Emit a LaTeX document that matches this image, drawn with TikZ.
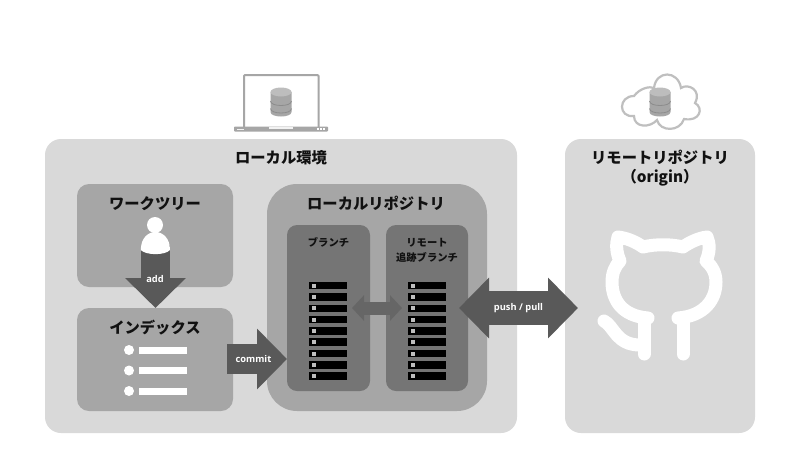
\documentclass[tikz,border=0pt]{standalone}
\usepackage{fontspec}
\setmainfont{Open Sans}
\newfontfamily\jp{Noto Sans CJK JP}
\usetikzlibrary{arrows.meta}
\definecolor{cOuter}{HTML}{D9D9D9}
\definecolor{cMid}{HTML}{A6A6A6}
\definecolor{cInner}{HTML}{757575}
\definecolor{cArrow}{HTML}{595959}
\definecolor{cArrowB}{HTML}{666666}
\definecolor{cIcon}{HTML}{A6A6A6}
\definecolor{cDbLine}{HTML}{8C8C8C}
\definecolor{cDbTop}{HTML}{BDBDBD}
\definecolor{cCloud}{HTML}{BFBFBF}
\definecolor{cInk}{HTML}{111111}
\tikzset{
  panel/.style={inner sep=0pt,outer sep=0pt,rounded corners=#1},
  bigtitle/.style={font=\jp\bfseries\fontsize{15.3}{18}\selectfont,text=cInk,align=center,inner sep=0pt},
  smalltitle/.style={font=\jp\bfseries\fontsize{10.3}{15}\selectfont,text=cInk,align=center,inner sep=0pt},
  arrowlabel/.style={font=\bfseries\fontsize{9.3}{11}\selectfont,text=white,inner sep=0pt},
  blockarrow/.style args={#1/#2/#3}{draw=cArrow,line width=#1,line cap=butt,
     arrows={-{Triangle[width=#2,length=#3]}}},
  blockboth/.style args={#1/#2/#3}{draw=cArrow,line width=#1,line cap=butt,
     arrows={{Triangle[width=#2,length=#3]}-{Triangle[width=#2,length=#3]}}},
  rowbar/.style={fill=black,draw=none,inner sep=0pt,minimum width=38pt,minimum height=7.5pt},
  listbar/.style={fill=white,draw=none,inner sep=0pt,minimum width=48pt,minimum height=7pt},
  dbicon/.pic={
    \fill[cIcon] (-10.5,-10) -- (-10.5,10) .. controls (-10.5,16) and (10.5,16) .. (10.5,10) -- (10.5,-10) -- cycle;
    \fill[cDbTop] (0,-10) ellipse [x radius=10.5,y radius=4.5];
    \draw[cDbLine,line width=.8pt] (-10.5,-1) .. controls (-10.5,5) and (10.5,5) .. (10.5,-1);
    \draw[cDbLine,line width=.8pt] (-10.5,6.5) .. controls (-10.5,12.5) and (10.5,12.5) .. (10.5,6.5);
  }
}
\begin{document}
\begin{tikzpicture}[x=1pt,y=-1pt]
\useasboundingbox[fill=white] (0,0) rectangle (800,472);

% panels
\node[panel=16pt,fill=cOuter,minimum width=472pt,minimum height=294pt] (local) at (281,286) {};
\node[panel=16pt,fill=cOuter,minimum width=190pt,minimum height=294pt] (remote) at (660,286) {};
\node[panel=12pt,fill=cMid,minimum width=156pt,minimum height=103pt] (work) at (155,235.5) {};
\node[panel=12pt,fill=cMid,minimum width=156pt,minimum height=103pt] (index) at (155,359.5) {};
\node[panel=30pt,fill=cMid,minimum width=220pt,minimum height=227pt] (repo) at (377,297.5) {};
\node[panel=10pt,fill=cInner,minimum width=83pt,minimum height=166pt] (branch) at (328.5,308) {};
\node[panel=10pt,fill=cInner,minimum width=82pt,minimum height=166pt] (track) at (427,308) {};

% titles
\node[bigtitle] (tLocal) at (281,157.5) {ローカル環境};
\node[bigtitle] (tRemote) at (660,157.5) {リモートリポジトリ};
\node[bigtitle] (tOrigin) at (660,177.5) {（origin）};
\node[bigtitle] (tWork) at (155,203.5) {ワークツリー};
\node[bigtitle] (tIndex) at (155,327.5) {インデックス};
\node[bigtitle] (tRepo) at (376,203.5) {ローカルリポジトリ};
\node[smalltitle] (tBranch) at (328.5,242.5) {ブランチ};
\node[smalltitle] (tTrack) at (427,250) {リモート\\追跡ブランチ};

% server rows
\foreach \i in {0,...,8}{
  \node[rowbar] (ba\i) at (328,285.7+\i*11.3) {};
  \fill[cOuter!70!gray] (ba\i.west)++(3.5,-2) rectangle ++(4,4);
  \node[rowbar] (tr\i) at (427,285.7+\i*11.3) {};
  \fill[cOuter!70!gray] (tr\i.west)++(3.5,-2) rectangle ++(4,4);
}

% add arrow
\coordinate (addS) at (155.5,245);
\coordinate (addE) at (155.5,308);
\draw[blockarrow=29pt/59pt/30pt] (addS) -- (addE);
\node[arrowlabel] (lAdd) at (155,279) {add};

% person
\node[circle,fill=white,inner sep=0pt,minimum size=16pt] (pHead) at (155,225) {};
\fill[white] (140.8,250) .. controls (140.8,226) and (170,226) .. (170,250) .. controls (165,255.5) and (146,255.5) .. (140.8,250) -- cycle;

% list
\foreach \i/\y in {1/350,2/370.5,3/391}{
  \node[circle,fill=white,inner sep=0pt,minimum size=10pt] (dot\i) at (129,\y) {};
  \node[listbar] (bar\i) at (163,\y) {};
}

% commit arrow
\coordinate (comS) at (227,359);
\draw[blockarrow=30pt/59pt/30pt] (comS) -- (branch.west |- comS);
\node[arrowlabel] (lCommit) at (253.5,359) {commit};

% branch <-> tracking
\coordinate (bbS) at (352,308);
\coordinate (bbE) at (402,308);
\draw[blockboth=13pt/25pt/12pt,draw=cArrowB] (bbS) -- (bbE);

% push / pull
\coordinate (ppS) at (459,308);
\coordinate (ppE) at (578,308);
\draw[blockboth=34pt/59pt/30pt] (ppS) -- (ppE);
\node[arrowlabel] (lPush) at (518.5,308) {push / pull};

% laptop
\fill[white] (244,75) rectangle (318,127);
\draw[cIcon,line width=2pt,rounded corners=1pt] (244,127.5) -- (244,75) -- (318.5,75) -- (318.5,127.5);
\fill[cIcon,rounded corners=.8pt] (234,126.5) rectangle (328,131.5);
\fill[white!85!cIcon] (269,127) rectangle (292.5,128.6);
\foreach \x in {317,320,323}{\fill[white] (\x,128.3) rectangle ++(1.8,1.8);}
\fill[white!85!cIcon] (237,128.6) rectangle (244,129.6);
\pic at (281,102) {dbicon};

% cloud
\draw[cCloud,line width=2.2pt,fill=white]
  (634,96) .. controls (640,88) and (650,86) .. (654,88)
  .. controls (656,70) and (678,70) .. (681,88)
  .. controls (688,83) and (702,90) .. (695,103)
  .. controls (704,108) and (700,122) .. (684,119)
  .. controls (680,132) and (660,132) .. (657,120)
  .. controls (650,128) and (634,128) .. (634,116)
  .. controls (618,118) and (618,96) .. (634,96) -- cycle;
\pic at (660,102) {dbicon};

% cat
\draw[white,line width=13pt,line cap=round,line join=round]
  (648,318) .. controls (622,316) and (612,300) .. (612,282)
  .. controls (612,273) and (615,266) .. (620,261)
  .. controls (616,252) and (616,244) .. (618,237)
  .. controls (627,238) and (636,242) .. (643,247)
  .. controls (655,244) and (671,244) .. (683,247)
  .. controls (690,242) and (699,238) .. (707,237)
  .. controls (710,244) and (710,252) .. (706,261)
  .. controls (712,266) and (716,273) .. (716,282)
  .. controls (716,300) and (704,316) .. (678,318);
\draw[white,line width=13pt,line cap=round] (683,318) -- (683,354);
\draw[white,line width=13pt,line cap=round] (644,318) -- (644,354);
\draw[white,line width=13pt,line cap=round,line join=round]
  (604,321) .. controls (614,326) and (616,345) .. (640,345);
\end{tikzpicture}
\end{document}
